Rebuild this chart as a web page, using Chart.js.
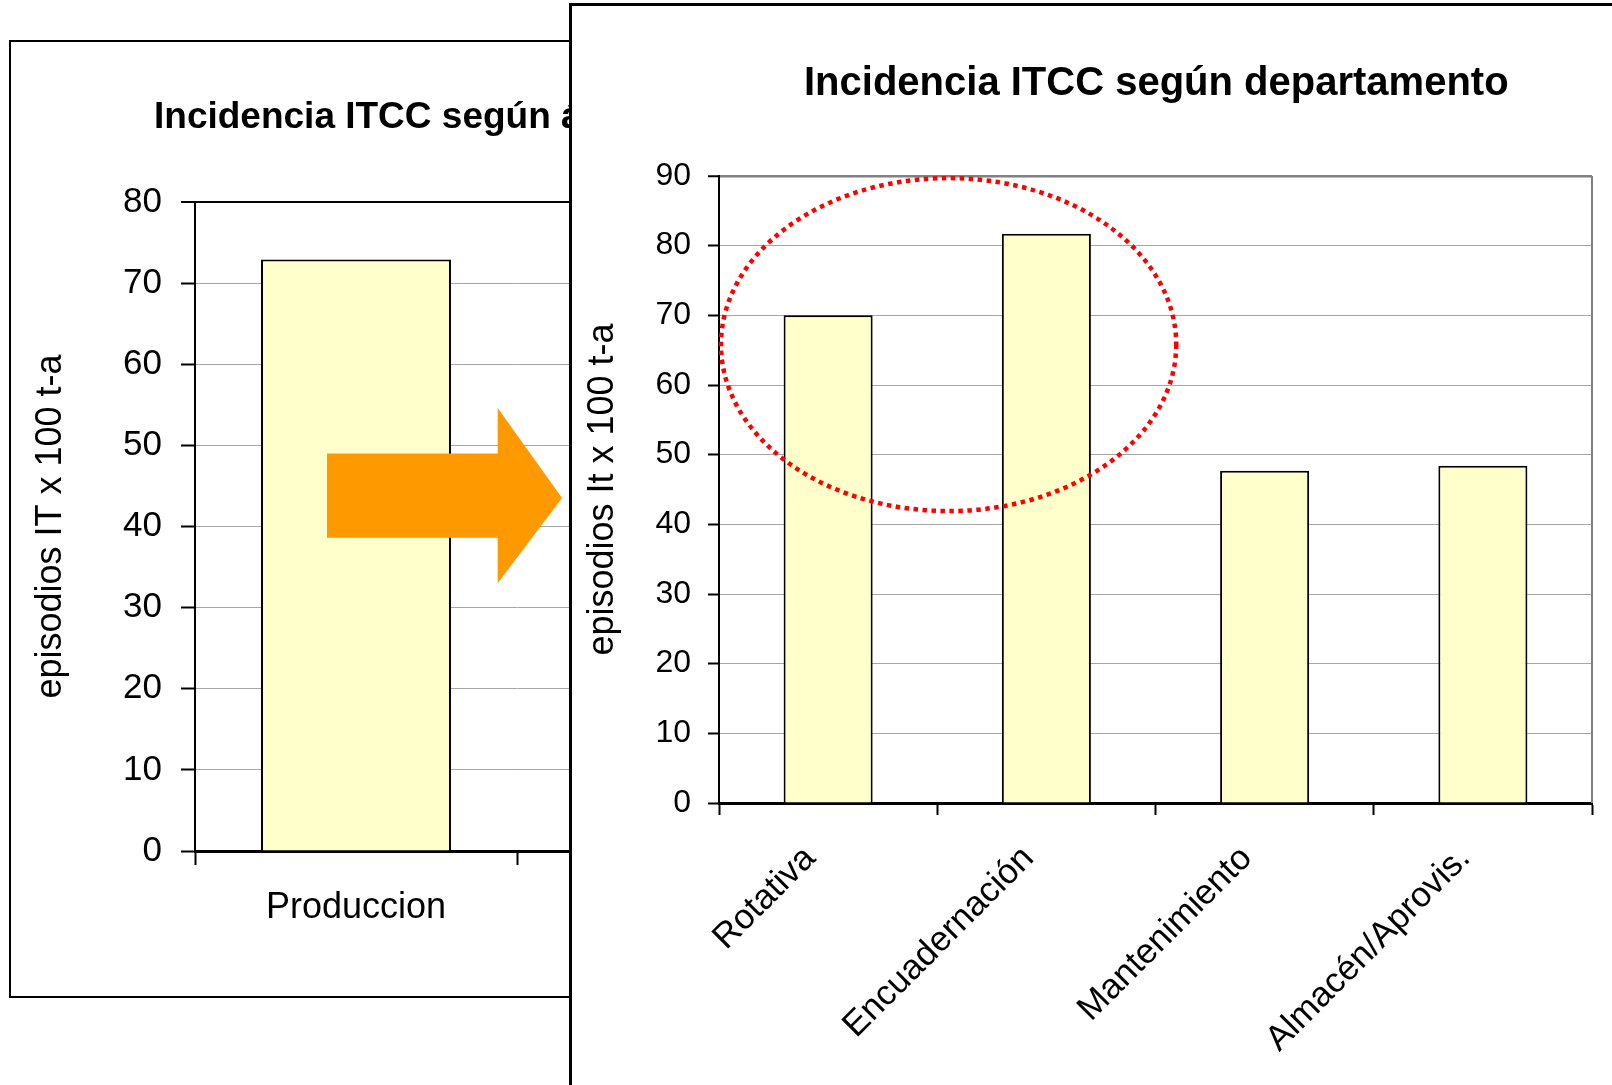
<!DOCTYPE html>
<html>
<head>
<meta charset="utf-8">
<title>Incidencia ITCC</title>
<script src="https://cdn.jsdelivr.net/npm/chart.js@4.4.1/dist/chart.umd.min.js"></script>
<style>
  body { margin: 0; width: 1612px; height: 1085px; overflow: hidden; position: relative; background: #fff;
         font-family: "Liberation Sans", Arial, sans-serif; }
  .box { position: absolute; background: #fff; }
  #leftBox { left: 9px; top: 40px; width: 840px; height: 954px; border: 2px solid #000; }
  #rightBox { left: 569px; top: 3px; width: 1040px; height: 1079px; border-left: 3px solid #000; border-top: 3px solid #000; }
  canvas { display: block; }
  .title { position: absolute; font-weight: bold; white-space: nowrap; color: #000; }
  #leftTitle { left: 154px; top: 97px; font-size: 37px; line-height: 37px; }
  #rightTitle { left: 804px; top: 61px; font-size: 40px; line-height: 40px; }
</style>
</head>
<body>
<div class="box" id="leftBox"><canvas id="areaChart" width="840" height="954"></canvas></div>
<div class="title" id="leftTitle">Incidencia ITCC según área</div>
<div class="box" id="rightBox"><canvas id="deptChart" width="1040" height="1079"></canvas></div>
<div class="title" id="rightTitle">Incidencia ITCC según departamento</div>

<script>
// Chart data
const areaLabels = ['Produccion', ''];   // second category is hidden behind the front chart
const areaValues = [72.9, null];
const deptLabels = ['Rotativa', 'Encuadernación', 'Mantenimiento', 'Almacén/Aprovis.'];
const deptValues = [70, 81.7, 47.7, 48.4];
const areaAxisMax = 80;
const deptAxisMax = 90;
const tickStep = 10;

// Annotations, in data units of their chart
const arrowShape = { tail: -0.09, neck: 0.44, tip: 0.64, shaftTop: 49.0, shaftBottom: 38.6, headTop: 54.6, headBottom: 33.0, tipValue: 43.5 };
const highlight = { x: 0.552, y: 65.8, rx: 1.043, ry: 23.9 };

const FONT = '"Liberation Sans", Arial, sans-serif';
const BAR_FILL = '#FFFFCC';

// Orange arrow pointing from the first chart to the second one
const arrowPlugin = {
    id: 'arrowPlugin',
    afterDatasetsDraw(chart) {
        const xs = chart.scales.x, ys = chart.scales.y, ctx = chart.ctx;
        const px = v => xs.getPixelForValue(v);
        const py = v => ys.getPixelForValue(v);
        ctx.save();
        ctx.fillStyle = '#FF9900';
        ctx.beginPath();
        ctx.moveTo(px(arrowShape.tail), py(arrowShape.shaftTop));
        ctx.lineTo(px(arrowShape.neck), py(arrowShape.shaftTop));
        ctx.lineTo(px(arrowShape.neck), py(arrowShape.headTop));
        ctx.lineTo(px(arrowShape.tip), py(arrowShape.tipValue));
        ctx.lineTo(px(arrowShape.neck), py(arrowShape.headBottom));
        ctx.lineTo(px(arrowShape.neck), py(arrowShape.shaftBottom));
        ctx.lineTo(px(arrowShape.tail), py(arrowShape.shaftBottom));
        ctx.closePath();
        ctx.fill();
        ctx.restore();
    }
};

// Grey frame on the right side of the plot area
const frameRightPlugin = {
    id: 'frameRight',
    beforeDatasetsDraw(chart) {
        const { ctx, chartArea } = chart;
        ctx.save();
        ctx.strokeStyle = '#808080';
        ctx.lineWidth = 2;
        ctx.beginPath();
        ctx.moveTo(chartArea.right, chartArea.top);
        ctx.lineTo(chartArea.right, chartArea.bottom);
        ctx.stroke();
        ctx.restore();
    }
};

// Red dotted ellipse around the two highest bars
const ellipsePlugin = {
    id: 'highlightEllipse',
    afterDatasetsDraw(chart) {
        const xs = chart.scales.x, ys = chart.scales.y, ctx = chart.ctx;
        const cx = xs.getPixelForValue(highlight.x);
        const cy = ys.getPixelForValue(highlight.y);
        const rx = xs.getPixelForValue(highlight.x + highlight.rx) - cx;
        const ry = cy - ys.getPixelForValue(highlight.y + highlight.ry);
        ctx.save();
        ctx.strokeStyle = '#FF0000';
        ctx.lineWidth = 4.5;
        ctx.setLineDash([4.5, 4.5]);
        ctx.beginPath();
        ctx.ellipse(cx, cy, rx, ry, 0, 0, Math.PI * 2);
        ctx.stroke();
        ctx.restore();
    }
};

// Back chart: incidence by area
new Chart(document.getElementById('areaChart'), {
    type: 'bar',
    data: {
        labels: areaLabels,
        datasets: [{ data: areaValues, backgroundColor: BAR_FILL, borderColor: '#000', borderWidth: 2,
                     categoryPercentage: 1, barPercentage: 0.59 }]
    },
    options: {
        responsive: false,
        animation: false,
        layout: { padding: { top: 160, right: 12, bottom: 0, left: 0 } },
        plugins: { legend: { display: false }, tooltip: { enabled: false } },
        scales: {
            x: {
                grid: { drawOnChartArea: false, tickLength: 14, tickColor: '#000', tickWidth: 2 },
                border: { color: '#000', width: 3 },
                ticks: { color: '#000', padding: 21, maxRotation: 0, font: { family: FONT, size: 36 } },
                afterFit(scale) { scale.height = 145; }
            },
            y: {
                min: 0, max: areaAxisMax,
                ticks: { stepSize: tickStep, color: '#000', padding: 19, font: { family: FONT, size: 35 } },
                grid: {
                    color: ctx => ctx.tick && ctx.tick.value === areaAxisMax ? '#000' : '#A6A6A6',
                    lineWidth: ctx => ctx.tick && ctx.tick.value === areaAxisMax ? 2 : 1,
                    tickLength: 14, tickColor: '#000', tickWidth: 2
                },
                border: { color: '#000', width: 2 },
                title: { display: true, text: 'episodios IT x 100 t-a', color: '#000',
                         font: { family: FONT, size: 36 }, padding: { top: 18, bottom: 0 } },
                afterFit(scale) { scale.width = 184; }
            }
        }
    },
    plugins: [arrowPlugin]
});

// Front chart: incidence by department
new Chart(document.getElementById('deptChart'), {
    type: 'bar',
    data: {
        labels: deptLabels,
        datasets: [{ data: deptValues, backgroundColor: BAR_FILL, borderColor: '#000', borderWidth: 2,
                     categoryPercentage: 1, barPercentage: 0.408 }]
    },
    options: {
        responsive: false,
        animation: false,
        layout: { padding: { top: 170, right: 20, bottom: 0, left: 0 } },
        plugins: { legend: { display: false }, tooltip: { enabled: false } },
        scales: {
            x: {
                grid: { drawOnChartArea: false, tickLength: 12, tickColor: '#000', tickWidth: 2 },
                border: { color: '#000', width: 3 },
                ticks: { color: '#000', padding: 23, labelOffset: -18, minRotation: 45, maxRotation: 45, autoSkip: false,
                         font: { family: FONT, size: 35 } },
                afterFit(scale) { scale.height = 282; }
            },
            y: {
                min: 0, max: deptAxisMax,
                ticks: { stepSize: tickStep, color: '#000', padding: 17, font: { family: FONT, size: 32 } },
                grid: {
                    color: ctx => ctx.tick && ctx.tick.value === deptAxisMax ? '#808080' : '#A6A6A6',
                    lineWidth: ctx => ctx.tick && ctx.tick.value === deptAxisMax ? 2.5 : 1,
                    tickLength: 11, tickColor: '#000', tickWidth: 2
                },
                border: { color: '#000', width: 2 },
                title: { display: true, text: 'episodios It x 100 t-a', color: '#000',
                         font: { family: FONT, size: 36 }, padding: { top: 9, bottom: 0 } },
                afterFit(scale) { scale.width = 147; }
            }
        }
    },
    plugins: [frameRightPlugin, ellipsePlugin]
});
</script>
</body>
</html>
